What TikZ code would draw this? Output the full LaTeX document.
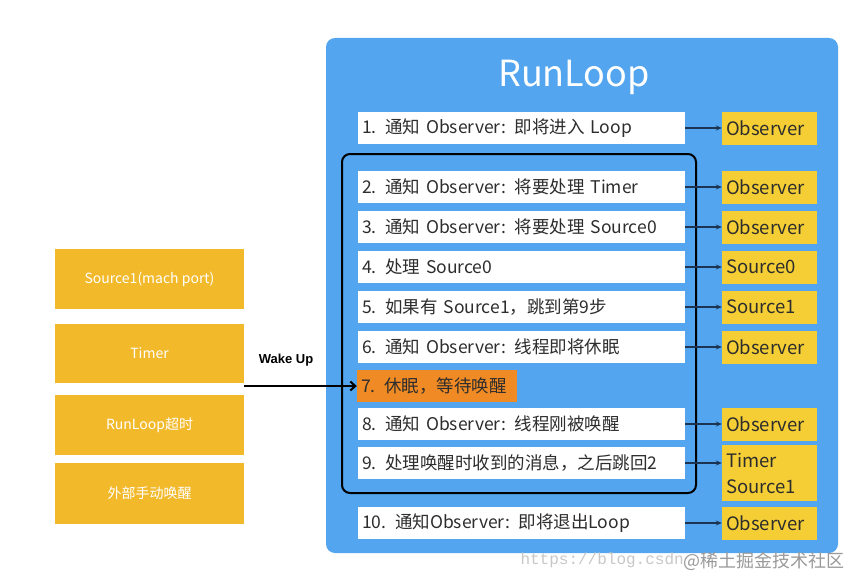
\documentclass[tikz,border=0pt]{standalone}
\usepackage{fontspec}
\setmainfont{Noto Sans CJK SC}
\newfontfamily\latf{Liberation Sans}
\newfontfamily\monof{Liberation Mono}
\usetikzlibrary{arrows.meta}
\definecolor{panelblue}{RGB}{82,165,238}
\definecolor{obsyellow}{RGB}{244,206,52}
\definecolor{srcyellow}{RGB}{242,185,43}
\definecolor{sleeporange}{RGB}{240,138,36}
\definecolor{arrnavy}{RGB}{28,52,82}
\definecolor{txtgray}{RGB}{45,45,45}
\tikzset{
  stepbox/.style={fill=white, minimum width=327pt, minimum height=32pt, text width=319pt,
    inner xsep=4pt, inner ysep=0pt, align=left, text=txtgray, font=\fontsize{17.5}{17.5}\selectfont},
  obsbox/.style={fill=obsyellow, minimum width=95pt, minimum height=33pt, text width=87pt,
    inner xsep=4pt, inner ysep=0pt, align=left, text=txtgray, font=\fontsize{18.5}{18.5}\selectfont},
  srcbox/.style={fill=srcyellow, minimum width=189pt, minimum height=60pt, inner sep=0pt,
    text=white, font=\fontsize{14}{14}\selectfont},
  arr/.style={draw=arrnavy, line width=1.2pt, -{Stealth[length=6pt,width=5pt]}},
}
\begin{document}
\begin{tikzpicture}[x=1pt,y=-1pt]
\useasboundingbox (0,0) rectangle (852,578);
% panel
\fill[panelblue, rounded corners=9pt] (326,38) rectangle (838,553);
\node[text=white, font=\fontsize{36}{36}\selectfont] (title) at (574,77) {RunLoop};
% inner loop frame
\draw[black, line width=2pt, rounded corners=8pt] (342,154) rectangle (696,493);
% steps
\node[stepbox] (s1) at (521.5,128) {1. 通知 Observer: 即将进入 Loop};
\node[stepbox] (s2) at (521.5,187) {2. 通知 Observer: 将要处理 Timer};
\node[stepbox] (s3) at (521.5,227) {3. 通知 Observer: 将要处理 Source0};
\node[stepbox] (s4) at (521.5,267) {4. 处理 Source0};
\node[stepbox] (s5) at (521.5,307) {5. 如果有 Source1，跳到第9步};
\node[stepbox] (s6) at (521.5,347) {6. 通知 Observer: 线程即将休眠};
\node[fill=sleeporange, minimum width=160pt, minimum height=32pt, text width=152pt, inner xsep=4pt,
  inner ysep=0pt, align=left, text=txtgray, font=\fontsize{17.5}{17.5}\selectfont] (s7) at (437,386) {7. 休眠，等待唤醒};
\node[stepbox] (s8) at (521.5,424) {8. 通知 Observer: 线程刚被唤醒};
\node[stepbox] (s9) at (521.5,463) {9. 处理唤醒时收到的消息，之后跳回2};
\node[stepbox] (s10) at (521.5,523) {10. 通知Observer: 即将退出Loop};
% targets
\node[obsbox] (o1) at (769.5,128) {Observer};
\node[obsbox] (o2) at (769.5,187) {Observer};
\node[obsbox] (o3) at (769.5,227) {Observer};
\node[obsbox] (o4) at (769.5,267) {Source0};
\node[obsbox] (o5) at (769.5,307) {Source1};
\node[obsbox] (o6) at (769.5,347) {Observer};
\node[obsbox] (o8) at (769.5,424) {Observer};
\node[obsbox, minimum height=56pt, font=\fontsize{18.5}{26}\selectfont] (o9) at (769.5,473) {Timer\\Source1};
\node[obsbox] (o10) at (769.5,523) {Observer};
\foreach \i in {1,2,3,4,5,6,8,10} {\draw[arr] (s\i.east) -- (o\i.west);}
\draw[arr] (s9.east) -- (s9.east -| o9.west);
% left sources
\node[srcbox] (l1) at (149.5,279) {Source1(mach port)};
\node[srcbox, minimum height=59pt] (l2) at (149.5,353.5) {Timer};
\node[srcbox] (l3) at (149.5,425) {RunLoop超时};
\node[srcbox, minimum height=61pt] (l4) at (149.5,493.5) {外部手动唤醒};
\coordinate (wk) at (244,386);
\draw[black, line width=2pt, -{Straight Barb[length=5pt,width=9pt]}] (wk) -- (s7.west);
\node[font=\latf\bfseries\fontsize{13}{13}\selectfont] (wl) at (286,360) {Wake Up};
% watermark
\node[anchor=west, text=black!22, font=\monof\fontsize{16}{16}\selectfont] (wm1) at (517,560) {https://blog.csdn};
\node[anchor=west, text=black!40, font=\fontsize{18}{18}\selectfont] (wm2) at (680,561) {@稀土掘金技术社区};
\end{tikzpicture}
\end{document}
